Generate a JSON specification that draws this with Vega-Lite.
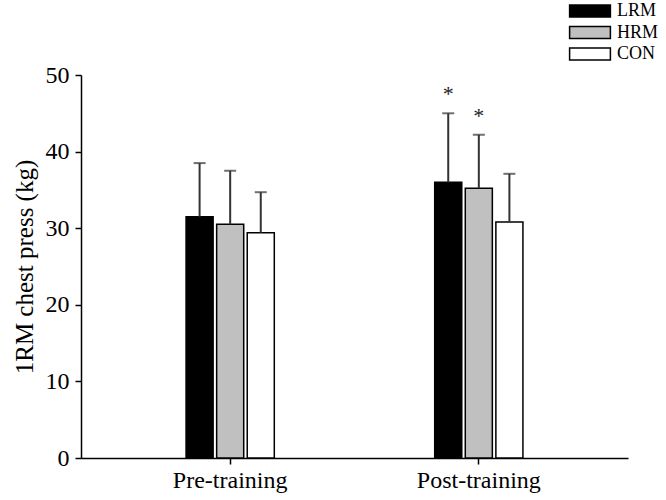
{
  "$schema": "https://vega.github.io/schema/vega-lite/v6.json",
  "width": 547,
  "height": 383,
  "autosize": "none",
  "padding": {"left": 81, "top": 75, "right": 38, "bottom": 42},
  "background": "white",
  "config": {
    "view": {"stroke": null},
    "font": "Liberation Serif",
    "axis": {"domainColor": "black", "tickColor": "black", "domainWidth": 1.5, "tickWidth": 1.5, "labelColor": "black", "titleColor": "black", "grid": false, "labelFont": "Liberation Serif", "titleFont": "Liberation Serif"}
  },
  "data": {
    "values": [
      {"phase": "Pre-training", "group": "LRM", "mean": 31.5, "upper": 38.5, "sig": ""},
      {"phase": "Pre-training", "group": "HRM", "mean": 30.5, "upper": 37.5, "sig": ""},
      {"phase": "Pre-training", "group": "CON", "mean": 29.4, "upper": 34.7, "sig": ""},
      {"phase": "Post-training", "group": "LRM", "mean": 36.0, "upper": 45.0, "sig": "*"},
      {"phase": "Post-training", "group": "HRM", "mean": 35.2, "upper": 42.2, "sig": "*"},
      {"phase": "Post-training", "group": "CON", "mean": 30.8, "upper": 37.1, "sig": ""}
    ]
  },
  "encoding": {
    "x": {
      "field": "phase", "type": "nominal", "sort": ["Pre-training", "Post-training"],
      "scale": {"paddingInner": 0.5, "paddingOuter": 0.35},
      "axis": {"title": null, "labelAngle": 0, "labelFontSize": 24, "labelFontWeight": "normal", "tickSize": 6, "labelPadding": 4}
    },
    "xOffset": {
      "field": "group", "type": "nominal", "sort": ["LRM", "HRM", "CON"],
      "scale": {"paddingInner": 0.115, "paddingOuter": 0.59}
    }
  },
  "layer": [
    {
      "mark": {"type": "bar", "stroke": "black", "strokeWidth": 1.5},
      "encoding": {
        "y": {
          "field": "mean", "type": "quantitative",
          "scale": {"domain": [0, 50], "nice": false},
          "axis": {"values": [0, 10, 20, 30, 40, 50], "title": "1RM chest press (kg)", "titleFontSize": 25, "titleFontWeight": "normal", "labelFontSize": 24, "tickSize": 6, "labelPadding": 6, "titlePadding": 8}
        },
        "fill": {
          "field": "group", "type": "nominal", "sort": ["LRM", "HRM", "CON"],
          "scale": {"domain": ["LRM", "HRM", "CON"], "range": ["#000000", "#c0c0c0", "#ffffff"]},
          "legend": {
            "title": null, "orient": "none", "legendX": 500, "legendY": -73, "padding": 0,
            "symbolType": "M-3.4,-1L3.4,-1L3.4,1L-3.4,1Z", "symbolSize": 144,
            "symbolStrokeColor": "black", "symbolStrokeWidth": 1.5,
            "labelFontSize": 18, "labelFont": "Liberation Serif", "labelColor": "black", "labelOffset": 18,
            "rowPadding": 3.5
          }
        }
      }
    },
    {
      "mark": {"type": "rule", "color": "#333333", "strokeWidth": 2},
      "encoding": {
        "y": {"field": "mean", "type": "quantitative"},
        "y2": {"field": "upper"}
      }
    },
    {
      "mark": {"type": "tick", "color": "#333333", "thickness": 2, "size": 12},
      "encoding": {
        "y": {"field": "upper", "type": "quantitative"}
      }
    },
    {
      "mark": {"type": "text", "fontSize": 22, "font": "Liberation Serif", "color": "#222222", "baseline": "alphabetic", "dy": -12},
      "encoding": {
        "y": {"field": "upper", "type": "quantitative"},
        "text": {"field": "sig"}
      }
    }
  ]
}
